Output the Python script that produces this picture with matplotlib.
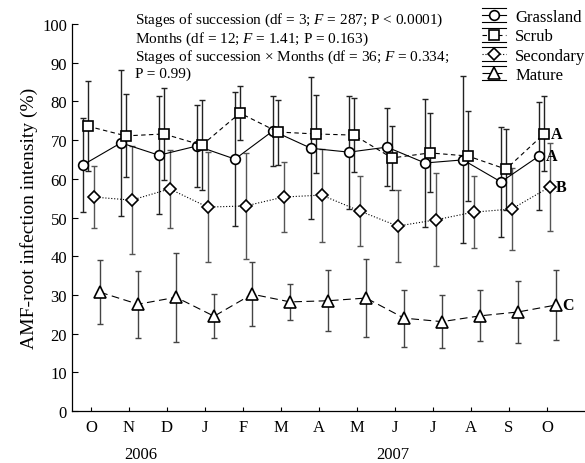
import numpy as np
import matplotlib
matplotlib.use("Agg")
from matplotlib import pyplot as plt
from matplotlib.lines import Line2D
from matplotlib.legend_handler import HandlerLine2D

plt.rcParams['font.family'] = ['Liberation Serif', 'DejaVu Serif']
plt.rcParams['mathtext.fontset'] = 'custom'
plt.rcParams['mathtext.it'] = 'Liberation Serif:italic'
plt.rcParams['mathtext.rm'] = 'Liberation Serif'

## month labels, Oct 2006 .. Oct 2007
months = ["O", "N", "D", "J", "F", "M", "A", "M", "J", "J", "A", "S", "O"]

## means and error bars
grassland = [63.6, 69.3, 66.1, 68.5, 65.1, 72.4, 67.9, 66.9, 68.2, 64.1, 64.9, 59.2, 65.9]
grassland_err = [12.1, 18.8, 15.3, 10.6, 17.3, 9.0, 18.3, 14.6, 10.0, 16.6, 21.6, 14.2, 14.0]
scrub = [73.6, 71.1, 71.6, 68.7, 77.0, 72.1, 71.6, 71.3, 65.4, 66.7, 65.9, 62.5, 71.6]
scrub_err = [11.7, 10.7, 12.0, 11.6, 6.9, 8.4, 10.0, 9.5, 8.2, 10.2, 11.7, 10.5, 9.7]
secondary = [55.3, 54.5, 57.4, 52.7, 53.0, 55.3, 55.8, 51.7, 47.8, 49.4, 51.4, 52.2, 57.9]
secondary_err = [8.0, 13.9, 10.0, 14.3, 13.7, 9.0, 12.0, 9.0, 9.2, 12.0, 9.3, 10.6, 11.3]
mature = [30.7, 27.6, 29.4, 24.5, 30.2, 28.2, 28.5, 29.2, 24.0, 23.1, 24.6, 25.6, 27.4]
mature_err = [8.2, 8.6, 11.5, 5.7, 8.2, 4.7, 7.9, 10.0, 7.4, 6.9, 6.6, 7.9, 9.1]

## significance letters at the end of each series
letters = ["A", "A", "B", "C"]


class HandlerWhisker(HandlerLine2D):
    # legend key with horizontal rules above and below, like the original
    def create_artists(self, legend, orig_handle, xdescent, ydescent,
                       width, height, fontsize, trans):
        arts = super().create_artists(legend, orig_handle, xdescent, ydescent,
                                      width, height, fontsize, trans)
        for yy in (-ydescent - 0.1 * height, height * 1.1 - ydescent):
            l = Line2D([-xdescent, width - xdescent], [yy, yy],
                       color='black', lw=0.8, transform=trans)
            arts.append(l)
        return arts


fig = plt.figure(figsize=(5.85, 4.64), dpi=100)
ax = fig.add_axes([0.123, 0.112, 0.877, 0.834])

x = np.arange(len(months))
series = [
    ("Grassland", grassland, grassland_err, 'o', '-', -0.21, '#222222'),
    ("Scrub", scrub, scrub_err, 's', (0, (4, 3)), -0.08, '#222222'),
    ("Secondary", secondary, secondary_err, 'D', ':', 0.07, '#555555'),
    ("Mature", mature, mature_err, '^', (0, (7, 4)), 0.24, '#444444'),
]

handles = []
for (name, vals, errs, mk, ls, off, ecol), let in zip(series, letters):
    xs = x + off
    ax.errorbar(xs, vals, yerr=errs, fmt='none', ecolor=ecol,
                elinewidth=1.0, capsize=2, capthick=1.0, zorder=2)
    ms = 7 if mk != 'D' else 6.3
    if mk == '^':
        ms = 8.5
    ln, = ax.plot(xs, vals, linestyle=ls, color='black', lw=0.8,
                  marker=mk, markersize=ms, markerfacecolor='white',
                  markeredgecolor='black', markeredgewidth=1.2, zorder=3,
                  label=name)
    handles.append(ln)
    ax.text(xs[-1] + 0.17, vals[-1], let, fontsize=11.5, fontweight='bold',
            ha='left', va='center')

ax.set_xlim(-0.5, 13.0)
ax.set_ylim(0, 100)
ax.set_xticks(x)
ax.set_xticklabels(months, fontsize=12)
ax.set_yticks(np.arange(0, 101, 10))
ax.tick_params(axis='y', labelsize=12, direction='in', length=4, width=0.8)
ax.tick_params(axis='x', direction='in', length=3, width=0.8, pad=6)
ax.spines['top'].set_visible(False)
ax.spines['right'].set_visible(False)
ax.spines['left'].set_linewidth(0.9)
ax.spines['bottom'].set_linewidth(0.9)
ax.set_ylabel("AMF-root infection intensity (%)", fontsize=14, labelpad=3)

## year labels under the months
ax.text(1.3, -0.11, "2006", transform=ax.get_xaxis_transform(),
        ha='center', va='center', fontsize=12)
ax.text(7.95, -0.11, "2007", transform=ax.get_xaxis_transform(),
        ha='center', va='center', fontsize=12)

## statistics text
stats = ("Stages of succession (df = 3; $F$ = 287; P < 0.0001)\n"
         "Months (df = 12; $F$ = 1.41; P = 0.163)\n"
         "Stages of succession \u00d7 Months (df = 36; $F$ = 0.334;\n"
         "P = 0.99)")
fig.text(135 / 585, 1 - 12 / 464, stats, fontsize=11, ha='left', va='top',
         linespacing=1.1)

leg = fig.legend(handles=handles, loc='upper left',
                 bbox_to_anchor=(482 / 585, 1 - 10 / 464),
                 frameon=False, fontsize=12,
                 handlelength=1.45, handletextpad=0.55, labelspacing=0.2,
                 borderpad=0.0, borderaxespad=0.0,
                 handler_map={Line2D: HandlerWhisker()})
leg.set_zorder(5)

fig.savefig("out.png", dpi=100)
